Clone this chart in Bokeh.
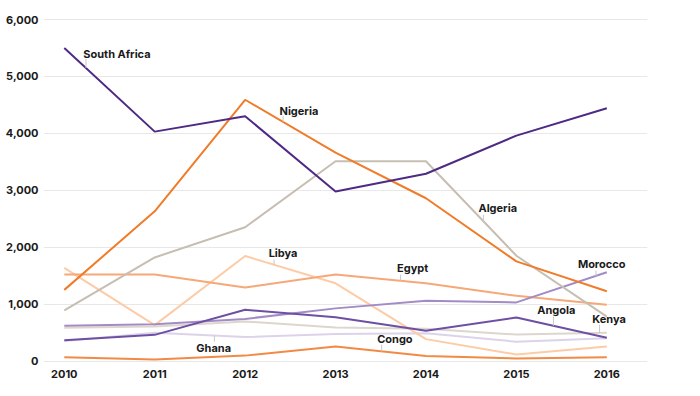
from bokeh.plotting import figure
from bokeh.models import FixedTicker, NumeralTickFormatter, Range1d
from bokeh.core.properties import value
from bokeh.embed import file_html
from bokeh.resources import INLINE
import numpy as np

years = [2010, 2011, 2012, 2013, 2014, 2015, 2016]

south_africa = [5500, 4030, 4300, 2980, 3290, 3960, 4440]
nigeria = [1250, 2630, 4590, 3660, 2860, 1750, 1225]
algeria = [890, 1820, 2350, 3510, 3510, 1850, 780]
egypt = [1520, 1520, 1290, 1520, 1365, 1145, 990]
libya = [1635, 630, 1845, 1365, 385, 115, 255]
morocco = [620, 645, 740, 925, 1060, 1030, 1560]
angola = [365, 460, 900, 770, 530, 765, 410]
kenya = [585, 605, 695, 590, 565, 465, 495]
ghana = [350, 495, 420, 475, 490, 340, 400]
congo = [65, 25, 95, 255, 90, 45, 65]

countries = ["Ghana", "Kenya", "Libya", "Egypt", "Congo", "Morocco", "Angola",
             "Algeria", "Nigeria", "South Africa"]
series = [ghana, kenya, libya, egypt, congo, morocco, angola, algeria, nigeria, south_africa]
colors = ["#dcd3ea", "#dcd6ce", "#fdcba5", "#f6a878", "#f28a45", "#a38cc6", "#6e4fa3",
          "#c7beb2", "#f07c2a", "#4e2a84"]

# label anchors (data coords): text left x, text middle y, leader x, leader start y
label_x = [2011.46, 2015.84, 2012.26, 2013.68, 2013.46, 2015.68, 2015.23, 2014.58, 2012.38, 2010.21]
label_y = [225, 740, 1904, 1628, 389, 1711, 898, 2688, 4395, 5400]
leader_x = [2011.66, 2015.92, 2012.32, 2013.72, 2013.51, 2015.88, 2015.41, 2014.635, 2012.42, 2010.24]
leader_y = [342, 640, 1781, 1518, 289, 1588, 781, 2570, 4307, 5307]

y_ticks = [0, 1000, 2000, 3000, 4000, 5000, 6000]

FONT = "Inter"

p = figure(output_backend="svg", toolbar_location=None,
           frame_width=604, frame_height=352,
           min_border_left=43, min_border_right=37, min_border_top=12, min_border_bottom=16,
           x_range=Range1d(2009.77, 2016.45), y_range=Range1d(-61, 6123))
p.outline_line_color = None
p.background_fill_color = "white"
p.border_fill_color = "white"

p.xgrid.grid_line_color = None
p.ygrid.grid_line_color = "#e8e8e8"
p.ygrid.grid_line_width = 1
p.ygrid.ticker = FixedTicker(ticks=y_ticks)

for ax in (p.xaxis, p.yaxis):
    ax.axis_line_color = None
    ax.major_tick_line_color = None
    ax.minor_tick_line_color = None
    ax.major_tick_out = 0
    ax.major_tick_in = 0
    ax.major_label_text_font = FONT
    ax.major_label_text_font_size = "11px"
    ax.major_label_text_font_style = "bold"
    ax.major_label_text_color = "#1a1a1a"

p.xaxis.ticker = FixedTicker(ticks=years)
p.xaxis.major_label_standoff = 5
p.yaxis.ticker = FixedTicker(ticks=y_ticks)
p.yaxis.formatter = NumeralTickFormatter(format="0,0")
p.yaxis.major_label_standoff = 5

for s, c in zip(series, colors):
    p.line(years, s, line_color=c, line_width=2)

# leader lines down/up to the series line
ends = [float(np.interp(lx, years, s)) for lx, s in zip(leader_x, series)]
p.segment(x0=leader_x, y0=leader_y, x1=leader_x, y1=ends, line_color="#c8c8c8", line_width=1)

p.text(x=label_x, y=label_y, text=countries, text_font=value(FONT), text_font_size="11px",
       text_font_style="bold", text_color="#1a1a1a", text_baseline="middle", text_align="left")

open("out.html", "w").write(file_html(p, INLINE))
